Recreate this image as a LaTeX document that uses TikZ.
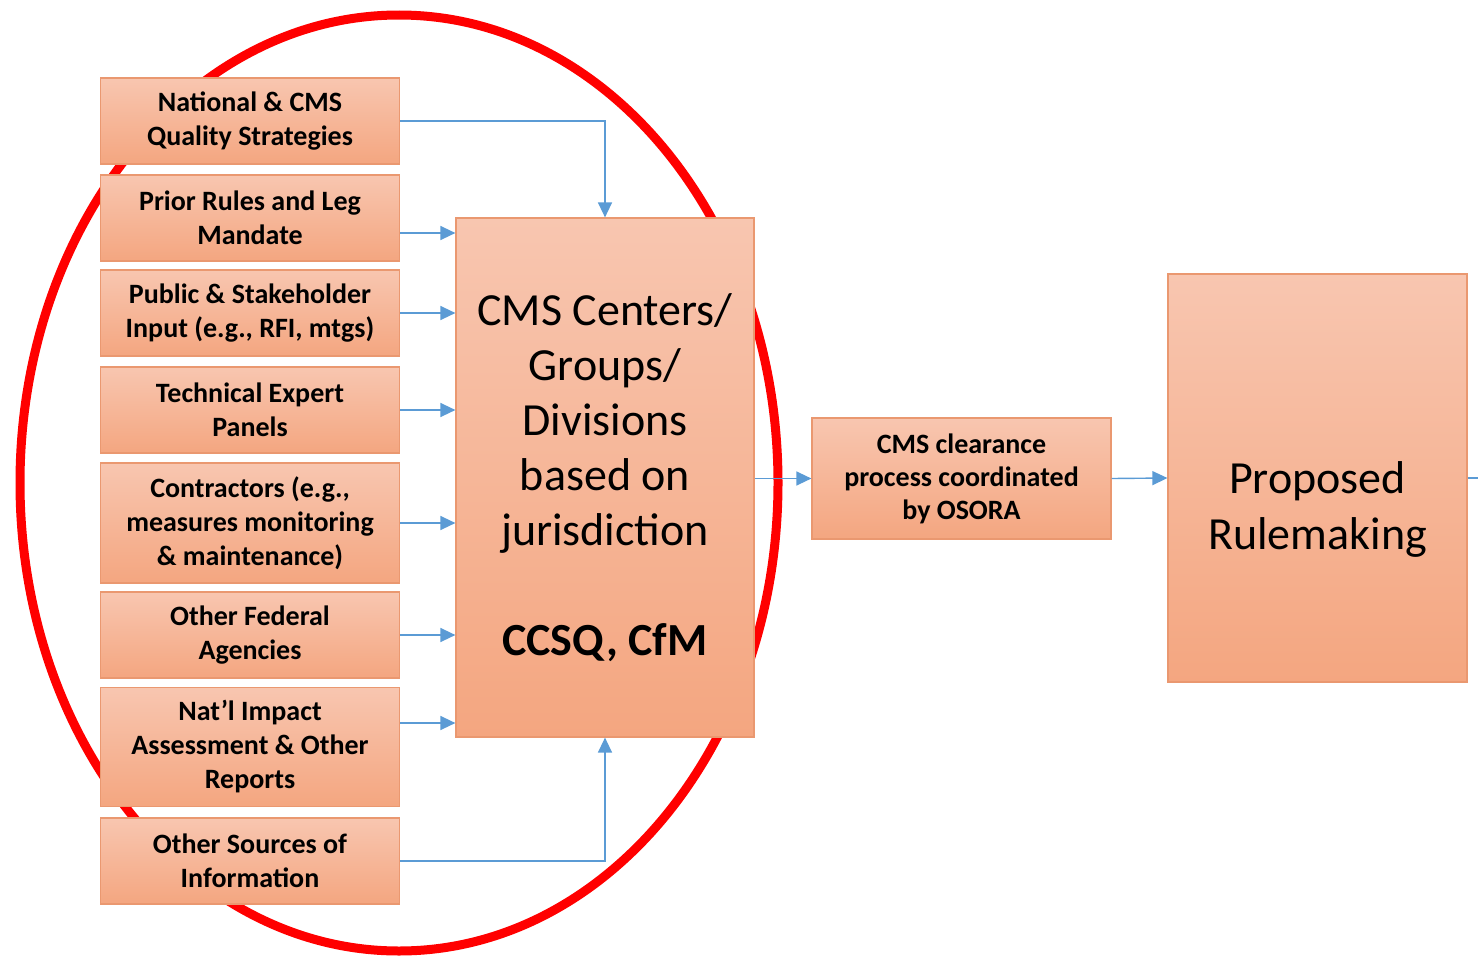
\documentclass[tikz,border=0pt]{standalone}
\usepackage{fontspec}
\setmainfont{Carlito}
\usetikzlibrary{arrows.meta}
\definecolor{boxtop}{RGB}{248,198,176}
\definecolor{boxbot}{RGB}{244,166,128}
\definecolor{boxline}{RGB}{234,152,112}
\definecolor{flowblue}{RGB}{91,155,213}
\definecolor{ringred}{RGB}{255,0,0}
\begin{document}
\begin{tikzpicture}[x=0.5pt,y=-0.5pt,
  box/.style={draw=boxline,line width=0.6pt,top color=boxtop,bottom color=boxbot,
              align=center,inner sep=0pt},
  src/.style={box,minimum width=149.5pt,minimum height=43pt,
              font=\bfseries\fontsize{14}{17}\selectfont},
  flow/.style={draw=flowblue,line width=0.7pt,-{Triangle[length=7.5pt,width=7pt]}}]
\useasboundingbox (0,0) rectangle (1478,958);
%\fill[white] (0,0) rectangle (1478,958);

% red ring behind the inputs
\draw[ringred,line width=4.5pt] (399,483) ellipse [x radius=189.5pt,y radius=234pt];

\node[src] (nqs)    at (250,121) {National \& CMS\\Quality Strategies};
\node[src] (prior)  at (250,218) {Prior Rules and Leg\\Mandate};
\node[src] (public) at (250,313) {Public \& Stakeholder\\Input (e.g., RFI, mtgs)};
\node[src] (tep)    at (250,410) {Technical Expert\\Panels};
\node[src,minimum height=60pt] (contr) at (250,523) {Contractors (e.g.,\\measures monitoring\\\& maintenance)};
\node[src] (fed)    at (250,635) {Other Federal\\Agencies};
\node[src,minimum height=59.5pt] (impact) at (250,747) {Nat'l Impact\\Assessment \& Other\\Reports};
\node[src] (other)  at (250,861) {Other Sources of\\Information};

\node[box,minimum width=149pt,minimum height=259.5pt,
      font=\fontsize{23}{27.5}\selectfont] (ctr) at (605,477.5)
      {CMS Centers/\\Groups/\\Divisions\\based on\\jurisdiction\\[27.5pt]\textbf{CCSQ, CfM}};
\node[box,minimum width=149.5pt,minimum height=60.5pt,
      font=\bfseries\fontsize{14}{16.5}\selectfont] (clear) at (961.5,478.5)
      {CMS clearance\\process coordinated\\by OSORA};
\node[box,minimum width=149.5pt,minimum height=204pt,
      label={[align=center,yshift=-15.5pt,font=\fontsize{23}{28}\selectfont]center:Proposed\\Rulemaking}]
      (prop) at (1317.5,478) {};
\coordinate (edge) at (1478,478);

\draw[flow] (nqs.east) -| (ctr.north);
\draw[flow] ([yshift=-7.5pt]prior.east) -- ([yshift=-7.5pt]prior.east -| ctr.west);
\draw[flow] (public.east) -- (public.east -| ctr.west);
\draw[flow] (tep.east) -- (tep.east -| ctr.west);
\draw[flow] (contr.east) -- (contr.east -| ctr.west);
\draw[flow] (fed.east) -- (fed.east -| ctr.west);
\draw[flow] ([yshift=12pt]impact.east) -- ([yshift=12pt]impact.east -| ctr.west);
\draw[flow] (other.east) -| (ctr.south);
\draw[flow] (ctr.east |- clear.west) -- (clear.west);
\draw[flow] (clear.east) -- (prop.west);
\draw[draw=flowblue,line width=0.7pt] (prop.east) -- (edge);
\end{tikzpicture}
\end{document}
